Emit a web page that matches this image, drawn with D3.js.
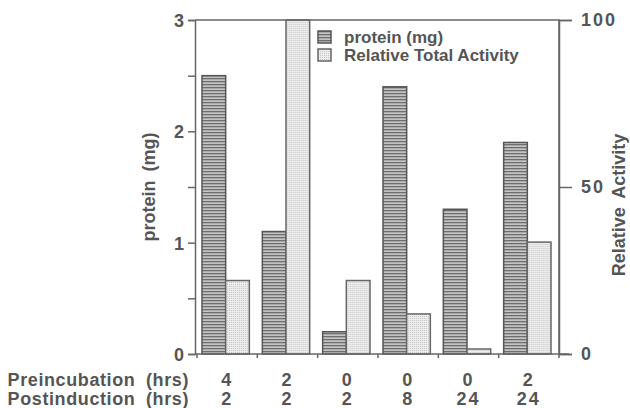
<!DOCTYPE html>
<html>
<head>
<meta charset="utf-8">
<script src="https://cdn.jsdelivr.net/npm/d3@7"></script>
<style>
  body { margin: 0; background: #fff; }
  text { font-family: "Liberation Sans", Arial, sans-serif; font-weight: bold; fill: #555; }
</style>
</head>
<body>
<svg id="chart" width="630" height="408"></svg>
<script>
var preincubation = ['4', '2', '0', '0', '0', '2'];
var postinduction = ['2', '2', '2', '8', '24', '24'];
var protein = [2.5, 1.1, 0.2, 2.4, 1.3, 1.9];
var activity = [22, 100, 22, 12, 1.5, 33.5];
var proteinTicks = [0, 1, 2, 3];
var activityTicks = [0, 50, 100];

var svg = d3.select('#chart');
var plotLeft = 195, plotRight = 559, plotTop = 20, plotBottom = 354;
var ink = '#666';

var defs = svg.append('defs');
var stripes = defs.append('pattern')
  .attr('id', 'stripes')
  .attr('patternUnits', 'userSpaceOnUse')
  .attr('width', 4).attr('height', 3);
stripes.append('rect').attr('width', 4).attr('height', 3).attr('fill', '#c4c4c4');
stripes.append('rect').attr('width', 4).attr('height', 1.3).attr('fill', '#6e6e6e');

var dots = defs.append('pattern')
  .attr('id', 'dots')
  .attr('patternUnits', 'userSpaceOnUse')
  .attr('width', 2).attr('height', 2);
dots.append('rect').attr('width', 2).attr('height', 2).attr('fill', '#ececec');
dots.append('rect').attr('width', 1).attr('height', 1).attr('fill', '#c8c8c8');

var groups = d3.range(protein.length);
var x = d3.scaleBand().domain(groups).range([plotLeft + 2, plotRight]);
var xi = d3.scaleBand().domain(['p', 'a']).range([5, x.bandwidth() - 8]);
var yP = d3.scaleLinear().domain([0, 3]).range([plotBottom, plotTop]);
var yA = d3.scaleLinear().domain([0, 100]).range([plotBottom, plotTop]);

// bars
var g = svg.append('g').selectAll('g').data(groups).enter().append('g')
  .attr('transform', function(d) { return 'translate(' + x(d) + ',0)'; });

g.append('rect')
  .attr('x', xi('p')).attr('width', xi.bandwidth())
  .attr('y', function(d) { return yP(protein[d]); })
  .attr('height', function(d) { return plotBottom - yP(protein[d]); })
  .attr('fill', 'url(#stripes)').attr('stroke', '#555').attr('stroke-width', 1.5);

g.append('rect')
  .attr('x', xi('a')).attr('width', xi.bandwidth())
  .attr('y', function(d) { return yA(activity[d]); })
  .attr('height', function(d) { return plotBottom - yA(activity[d]); })
  .attr('fill', 'url(#dots)').attr('stroke', '#666').attr('stroke-width', 1.5);

// frame
svg.append('path')
  .attr('d', 'M' + plotLeft + ',' + plotTop + 'H' + plotRight + 'V' + plotBottom)
  .attr('fill', 'none').attr('stroke', ink).attr('stroke-width', 1.5);

// left axis
var axL = svg.append('g').attr('transform', 'translate(' + plotLeft + ',0)')
  .call(d3.axisLeft(yP).tickValues(d3.range(0, 3.01, 0.5)).tickSize(7)
    .tickFormat(function(d) { return proteinTicks.indexOf(d) >= 0 ? d : ''; }));
axL.select('.domain').attr('stroke', ink).attr('stroke-width', 1.5);
axL.selectAll('.tick line').attr('stroke', ink).attr('stroke-width', 1.5);
axL.selectAll('.tick text').attr('font-size', 18).attr('x', -11).attr('dy', '0.36em')
  .attr('fill', '#555');

// right axis
var axR = svg.append('g').attr('transform', 'translate(' + plotRight + ',0)')
  .call(d3.axisRight(yA).tickValues(activityTicks).tickSize(13).tickPadding(9));
axR.select('.domain').attr('stroke', ink).attr('stroke-width', 1.5);
axR.selectAll('.tick line').attr('stroke', ink).attr('stroke-width', 1.5);
axR.selectAll('.tick text').attr('font-size', 18).attr('letter-spacing', 2).attr('fill', '#555');

// bottom baseline + ticks
var axB = svg.append('g').attr('transform', 'translate(0,' + plotBottom + ')');
axB.append('line').attr('x1', plotLeft).attr('x2', plotRight + 10)
  .attr('stroke', ink).attr('stroke-width', 1.5);
axB.selectAll('line.tk').data(groups.concat([protein.length])).enter().append('line')
  .attr('class', 'tk')
  .attr('x1', function(d) { return d < protein.length ? x(d) : plotRight; })
  .attr('x2', function(d) { return d < protein.length ? x(d) : plotRight; })
  .attr('y1', 0).attr('y2', 4)
  .attr('stroke', ink).attr('stroke-width', 1.5);

// axis titles
svg.append('text')
  .attr('transform', 'translate(155,' + yP(1.5) + ') rotate(-90)')
  .attr('text-anchor', 'middle').attr('font-size', 18).attr('word-spacing', 4)
  .text('protein (mg)');
svg.append('text')
  .attr('transform', 'translate(625,205) rotate(-90)')
  .attr('text-anchor', 'middle').attr('font-size', 18).attr('word-spacing', 4)
  .text('Relative Activity');

// category rows
var rows = [['Preincubation (hrs)', preincubation, 386], ['Postinduction (hrs)', postinduction, 405]];
rows.forEach(function(r) {
  svg.append('text').attr('x', 189).attr('y', r[2]).attr('text-anchor', 'end')
    .attr('font-size', 18).attr('word-spacing', 5).attr('letter-spacing', 0.6).text(r[0]);
  svg.append('g').selectAll('text').data(r[1]).enter().append('text')
    .attr('x', function(d, i) { return x(i) + x.bandwidth() / 2; })
    .attr('y', r[2]).attr('text-anchor', 'middle').attr('font-size', 18)
    .attr('letter-spacing', 2)
    .text(function(d) { return d; });
});

// legend
var legend = svg.append('g').attr('transform', 'translate(318,31)');
var items = [['protein (mg)', 'url(#stripes)', '#555'], ['Relative Total Activity', 'url(#dots)', '#666']];
items.forEach(function(it, i) {
  legend.append('rect').attr('x', 0).attr('y', i * 18).attr('width', 13).attr('height', 12)
    .attr('fill', it[1]).attr('stroke', it[2]).attr('stroke-width', 1.5);
  legend.append('text').attr('x', 26).attr('y', i * 18 + 12).attr('font-size', 17).text(it[0]);
});
</script>
</body>
</html>
